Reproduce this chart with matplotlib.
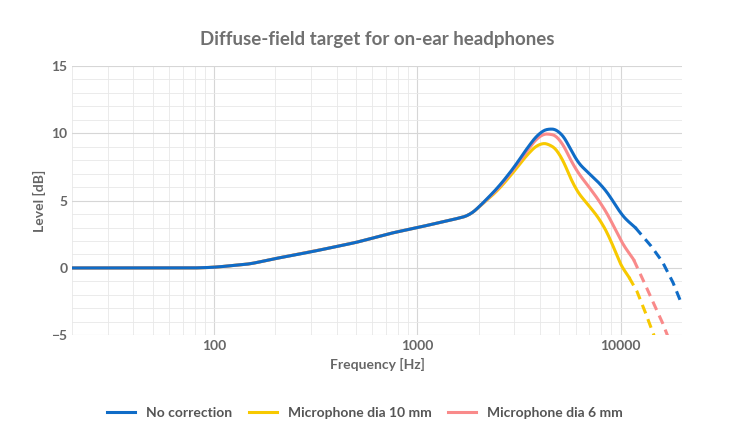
import matplotlib.pyplot as plt
from matplotlib.ticker import MultipleLocator, LogLocator, FixedLocator, NullFormatter
import numpy as np

plt.rcParams['font.family'] = ['Lato', 'DejaVu Sans']

# shared low-frequency part
base_f = [20, 30, 50, 80, 100, 150, 200, 300, 500, 750, 1000, 1500, 1800, 2000]
base_v = [0, 0, 0, 0, 0.05, 0.3, 0.7, 1.2, 1.9, 2.6, 3.0, 3.6, 3.9, 4.5]

nc_f = [2500, 3000, 3500, 4000, 4500, 5000, 5500, 6000, 7000, 8000, 9000, 10000, 11000, 11800]
nc_v = [6.0, 7.5, 9.0, 10.1, 10.4, 10.2, 9.3, 8.0, 7.0, 6.2, 5.2, 4.0, 3.4, 3.0]
nc_dash_f = [11800, 14000, 16000, 18000, 20000]
nc_dash_v = [3.0, 1.7, 0.5, -1.0, -2.7]

m10_f = [2500, 3000, 3500, 4000, 4500, 5000, 6000, 7000, 8000, 9000, 10000, 11000]
m10_v = [5.8, 7.2, 8.5, 9.3, 9.2, 8.6, 5.8, 4.6, 3.5, 2.0, 0.2, -0.7]
m10_dash_f = [11000, 12000, 13000, 14000, 15000]
m10_dash_v = [-0.7, -1.7, -3.0, -4.3, -5.5]

m6_f = [2500, 3000, 3500, 4000, 4500, 5000, 6000, 7000, 8000, 9000, 10000, 11000, 11600]
m6_v = [5.9, 7.4, 8.8, 9.9, 10.0, 9.7, 7.3, 6.0, 4.8, 3.5, 2.0, 1.1, 0.6]
m6_dash_f = [11600, 13000, 14000, 16000, 17500]
m6_dash_v = [0.6, -1.0, -2.1, -4.0, -5.5]

blue, yellow, pink = '#0f6cc7', '#f7c900', '#f98a8a'

fig, ax = plt.subplots(figsize=(7.3, 4.4), dpi=100)
fig.subplots_adjust(left=0.099, right=0.934, top=0.85, bottom=0.238)

def smooth(f, v, k=15):
    lf = np.log10(f)
    x = np.linspace(lf[0], lf[-1], 600)
    y = np.interp(x, lf, v)
    w = np.ones(k) / k
    yp = np.concatenate([np.full(k, y[0]), y, np.full(k, y[-1])])
    ys = np.convolve(yp, w, mode='same')[k:-k]
    ys[-k:] = y[-k:] * np.linspace(0, 1, k) + ys[-k:] * np.linspace(1, 0, k)
    return 10 ** x, ys

for fs, vs, df, dv, col, lab in [
        (m10_f, m10_v, m10_dash_f, m10_dash_v, yellow, 'Microphone dia 10 mm'),
        (m6_f, m6_v, m6_dash_f, m6_dash_v, pink, 'Microphone dia 6 mm'),
        (nc_f, nc_v, nc_dash_f, nc_dash_v, blue, 'No correction')]:
    x, y = smooth(base_f + fs, base_v + vs)
    ax.plot(x, y, color=col, lw=2.2, label=lab)
    dx, dy = smooth(df, dv, k=5)
    ax.plot(dx, dy, color=col, lw=2.2, ls=(0, (3, 2)))

ax.set_xscale('log')
ax.set_xlim(20, 20000)
ax.set_ylim(-5, 15)
ax.xaxis.set_major_locator(FixedLocator([100, 1000, 10000]))
ax.xaxis.set_major_formatter(plt.FuncFormatter(lambda v, p: f'{int(v)}'))
ax.xaxis.set_minor_locator(LogLocator(subs=np.arange(2, 10)))
ax.xaxis.set_minor_formatter(NullFormatter())
ax.yaxis.set_major_locator(MultipleLocator(5))
ax.yaxis.set_minor_locator(MultipleLocator(1))
ax.grid(which='major', color='#d6d6d6', lw=0.8)
ax.grid(which='minor', color='#e8e8e8', lw=0.6)
for s in ax.spines.values():
    s.set_visible(False)
ax.tick_params(which='both', length=0, labelsize=10, colors='#666666')
for t in ax.get_xticklabels() + ax.get_yticklabels():
    t.set_fontweight('bold')
ax.set_xlabel('Frequency [Hz]', color='#666666', fontsize=10, fontweight='bold')
ax.set_ylabel('Level [dB]', color='#666666', fontsize=10, fontweight='bold')
ax.set_title('Diffuse-field target for on-ear headphones', color='#707070',
             fontsize=13.5, fontweight='bold', pad=15)

h, l = ax.get_legend_handles_labels()
order = [2, 0, 1]
leg = fig.legend([h[i] for i in order], [l[i] for i in order], loc='lower center',
                 ncol=3, frameon=False, bbox_to_anchor=(0.5, 0.02), handlelength=2,
                 columnspacing=1.2, prop={'weight': 'bold', 'size': 10})
for t in leg.get_texts():
    t.set_color('#555555')

fig.savefig('out.png', dpi=100)
